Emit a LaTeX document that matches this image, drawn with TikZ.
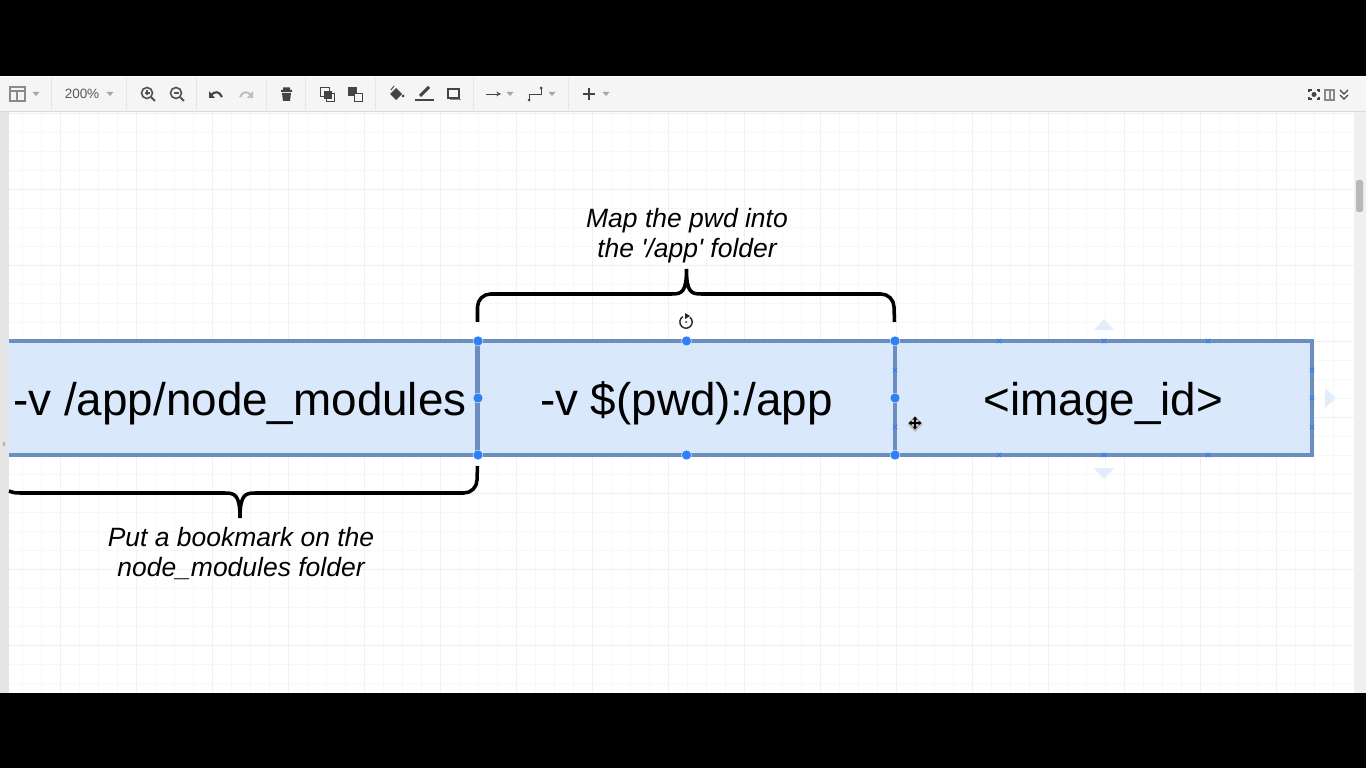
\documentclass[tikz,border=0pt]{standalone}
\usepackage{fontspec}
\setmainfont{Liberation Sans}
\usetikzlibrary{positioning}
\usetikzlibrary{shapes}
\definecolor{cellfill}{HTML}{DAE8FC}
\definecolor{celldraw}{HTML}{6C8EBF}
\definecolor{handle}{HTML}{2F7FF7}
\definecolor{hintblue}{HTML}{E3ECFA}
\definecolor{iconblack}{HTML}{444444}
\definecolor{icongray}{HTML}{8A8A8A}
\tikzstyle{cell}=[rectangle,fill=cellfill,draw=celldraw,line width=3pt,minimum height=97.5pt,inner sep=0pt,text height=33pt,text depth=2.4pt,font=\fontsize{39.1}{44}\selectfont]
\tikzstyle{note}=[align=center,font=\fontsize{22.6}{25.6}\selectfont\itshape]
\tikzstyle{brace}=[line width=3pt,black,line cap=butt]
\tikzstyle{dot}=[circle,fill=handle,draw=white,line width=0.3pt,minimum size=8.5pt,inner sep=0pt]
\tikzstyle{tool}=[iconblack,line width=1.3pt]
\tikzstyle{bartext}=[font=\fontsize{11.5}{13}\selectfont,text=black!65]

\begin{document}
\begin{tikzpicture}[x=0.03cm,y=-0.03cm]
  \useasboundingbox (0,0) rectangle (1366,768);

  \fill[white] (0,76) rectangle (1366,693);

  % grid
  \foreach \k in {0,...,70}
      \draw[black!3,line width=0.5pt] (3+19*\k,111) -- (3+19*\k,693);
  \foreach \k in {-3,...,26}
      \draw[black!3,line width=0.5pt] (8,189+19*\k) -- (1354,189+19*\k);
  \foreach \k in {0,...,16}
      \draw[black!6,line width=0.7pt] (60+76*\k,111) -- (60+76*\k,693);
  \foreach \k in {-1,...,6}
      \draw[black!6,line width=0.7pt] (8,189+76*\k) -- (1354,189+76*\k);

  % cells
  \node[cell,minimum width=405pt] (modules) at (240,398) {-v /app/node\_modules};
  \node[cell,minimum width=355.5pt] (pwd) at (686.5,398) {-v \$(pwd):/app};
  \node[cell,minimum width=355.5pt] (image) at (1103.5,398) {<image\_id>};

  % black bars, gutter, scrollbar
  \fill[black] (0,0) rectangle (1366,76);
  \fill[black] (0,693) rectangle (1366,768);
  \fill[black!10] (0,111) rectangle (8.5,693);
  \fill[black!6] (1354,111) rectangle (1366,693);
  \fill[black!28,rounded corners=2pt] (1356,180) rectangle (1363,212);
  \node[font=\fontsize{5}{5}\selectfont,text=black!50] (grip) at (4,444) {ll};

  % toolbar
  \fill[black!4] (0,77) rectangle (1366,111);
  \draw[black!14,line width=0.8pt] (0,111) -- (1366,111);
  \foreach \x in {51,126,196,266,305,375,473,568}
      \draw[black!10,line width=0.6pt] (\x,78) -- (\x,110);
  \foreach \x in {36,110,510,552,606}
      \fill[black!35] (\x-3.5,92) -- (\x+3.5,92) -- (\x,96) -- cycle;
  \node[bartext] (zoomlevel) at (82,94) {200\%};
  \draw[icongray,line width=1pt] (10,87) rectangle (25,101) (10,91) -- (25,91) (17,91) -- (17,101);
  \foreach \x/\sign in {147/1,176/0}{
      \draw[icongray!60!black,line width=1.4pt] (\x,93) circle (5.5);
      \draw[icongray!60!black,line width=1.8pt] (\x+4,97) -- (\x+8,101);
      \draw[icongray!60!black,line width=1pt] (\x-2.5,93) -- (\x+2.5,93);
  }
  \draw[icongray!60!black,line width=1pt] (147,90.5) -- (147,95.5);
  \draw[tool,line width=1.8pt] (222,97) .. controls (219,91) and (215,91) .. (211,95);
  \fill[iconblack] (209,91) -- (209,98) -- (215,98) -- cycle;
  \draw[black!25,line width=1.8pt] (240,97) .. controls (243,91) and (247,91) .. (251,95);
  \fill[black!25] (253,91) -- (253,98) -- (247,98) -- cycle;
  \fill[iconblack] (281,90) rectangle (292,92) (283,87.5) rectangle (290,90);
  \fill[iconblack] (282,93) -- (291,93) -- (290,101) -- (283,101) -- cycle;
  \draw[iconblack,line width=0.8pt] (320,87) rectangle (329,96);
  \fill[iconblack] (324,91) rectangle (332,99);
  \draw[iconblack,line width=0.8pt] (326,93) rectangle (334,101);
  \fill[iconblack] (348,87) rectangle (357,96);
  \draw[iconblack,line width=0.8pt,fill=black!4] (354,93) rectangle (362,101);
  \fill[iconblack] (396,88) -- (402,94) -- (396,100) -- (390,94) -- cycle;
  \draw[iconblack,line width=0.8pt] (391,90) -- (394,86);
  \fill[iconblack] (403,96) circle (1.5);
  \fill[iconblack] (415,99) rectangle (434,101.5);
  \draw[iconblack,line width=2.6pt] (420,96) -- (429,87);
  \draw[iconblack,line width=1.8pt] (448,89) rectangle (459,98);
  \fill[icongray] (450,99) rectangle (461,100.5);
  \draw[iconblack,line width=0.8pt,-stealth] (486,94) -- (501,94);
  \draw[iconblack,line width=0.8pt] (529,100) -- (529,94) -- (541,94) -- (541,88);
  \fill[iconblack] (529,100) circle (1.5) (541,88) circle (1.5);
  \draw[iconblack,line width=2.2pt] (583,94) -- (595,94) (589,88) -- (589,100);
  \fill[iconblack] (1314,94.5) circle (2.5);
  \draw[iconblack,line width=1.1pt] (1309,92) |- (1311.5,90) (1316.5,90) -| (1319,92) (1319,97) |- (1316.5,99) (1311.5,99) -| (1309,97);
  \draw[icongray,line width=1pt] (1325,90) rectangle (1334,100) (1330,90) -- (1330,100);
  \draw[iconblack,line width=1.1pt] (1340,90) -- (1344,94) -- (1348,90) (1340,95) -- (1344,99) -- (1348,95);

  % braces
  \coordinate (pwdtip) at (686.5,269);
  \coordinate (moduletip) at (240,518);
  \node[note] (pwdnote) at (687,236) {Map the pwd into\\the \textquotesingle/app\textquotesingle{} folder};
  \node[note] (modulesnote) at (241,554) {Put a bookmark on the\\node\_modules folder};
  \draw[brace] (477.5,322) -- (477.5,307) arc (180:270:13) -- (672,294) .. controls (682,294) and (686.5,292) .. (pwdtip)
      .. controls (686.5,292) and (691,294) .. (701,294) -- (881,294) arc (270:360:13) -- (894.5,322);
  \draw[brace] (9,491) .. controls (12,492.5) and (15,493) .. (20,493) -- (225,493) .. controls (235,493) and (240,495) .. (moduletip)
      .. controls (240,495) and (245,493) .. (255,493) -- (464,493) arc (90:0:13) -- (477.5,466);

  % selection handles
  \foreach \pos/\name in {{(478,341)/a},{(686.5,341)/b},{(895,341)/c},{(478,398)/d},{(895,398)/e},{(478,455)/f},{(686.5,455)/g},{(895,455)/h}}
      \node[dot] (\name) at \pos {};

  % connection points
  \foreach \x/\y in {999/341,1104/341,1208/341,999/455,1104/455,1208/455,895/370,895/427,1312/370,1312/398,1312/427}
      \draw[handle,line width=0.8pt] (\x-2.2,\y-2.2) -- (\x+2.2,\y+2.2) (\x-2.2,\y+2.2) -- (\x+2.2,\y-2.2);

  % hints
  \fill[hintblue] (1104,319) -- (1114,330) -- (1094,330) -- cycle;
  \fill[hintblue] (1104,479) -- (1114,468) -- (1094,468) -- cycle;
  \fill[hintblue] (1336,398) -- (1325,388) -- (1325,408) -- cycle;

  % rotate and move cursors
  \draw[black!85,line width=1.2pt] (686,322) ++(-50:6.2) arc (-50:240:6.2);
  \fill[black!85] (685,313) -- (690,316) -- (685,319) -- cycle;
  \fill[black!85] (686,322) circle (1);
  \fill[black!25] (915,416) -- (923,424) -- (915,432) -- (907,424) -- cycle;
  \draw[black,line width=1.1pt] (910,423) -- (920,423) (915,418) -- (915,428);
  \foreach \r in {0,90,180,270}
      \fill[black,rotate around={\r:(915,423)}] (921.5,423) -- (918.5,420.5) -- (918.5,425.5) -- cycle;
\end{tikzpicture}
\end{document}
